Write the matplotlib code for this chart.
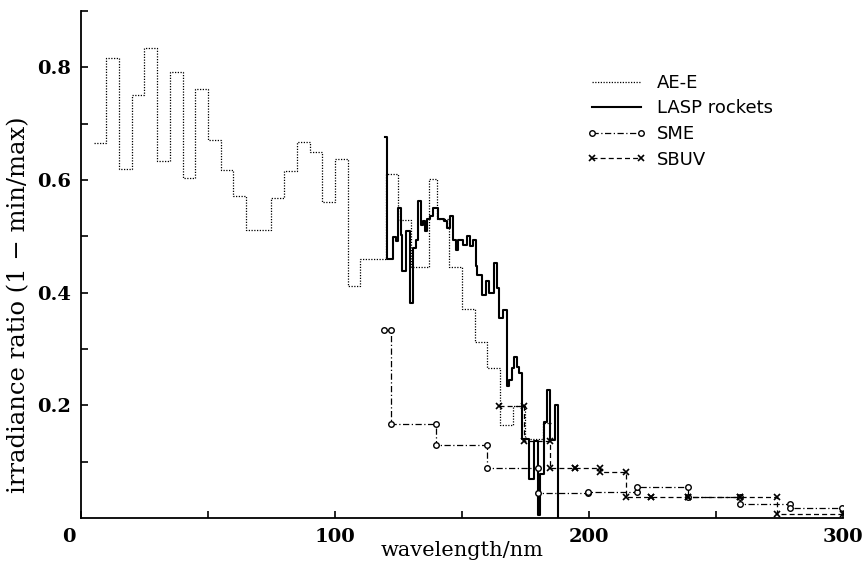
import matplotlib
matplotlib.use("Agg")
import matplotlib.pyplot as plt
import matplotlib.transforms as mtransforms

# AE-E: bin edges (nm) and ratio per bin
aee_edges = [5, 10, 15, 20, 25, 30, 35, 40, 45, 50, 55, 60, 65, 75, 80, 85, 90,
             95, 100, 105, 110, 120, 125, 130, 137, 140, 145, 150, 155, 160,
             165, 170, 175, 182, 185]
aee_vals = [0.666, 0.817, 0.619, 0.751, 0.834, 0.634, 0.792, 0.604, 0.761,
            0.671, 0.618, 0.572, 0.511, 0.568, 0.616, 0.667, 0.650, 0.561,
            0.638, 0.411, 0.460, 0.610, 0.529, 0.445, 0.602, 0.530, 0.445,
            0.371, 0.312, 0.266, 0.165, 0.199, 0.140, 0.169]

# LASP rockets: step start (nm) and value from there on
lasp_x = [119.7, 120.4, 122.7, 124.0, 124.9, 125.9, 126.5, 127.8, 129.5, 130.8,
          131.8, 132.8, 133.7, 134.8, 135.4, 136.3, 137.4, 138.7, 140.7, 142.9,
          144.2, 145.3, 146.3, 147.6, 148.5, 150.3, 151.8, 153.1, 154.2, 155.5,
          156.1, 157.8, 159.4, 160.7, 162.6, 163.7, 164.7, 166.0, 167.6, 168.6,
          169.6, 170.5, 171.5, 172.6, 173.5, 176.4, 178.5, 179.8, 180.9, 182.4,
          183.3, 184.6, 186.6, 187.7]
lasp_y = [0.676, 0.459, 0.499, 0.491, 0.550, 0.503, 0.438, 0.509, 0.381, 0.479,
          0.494, 0.562, 0.521, 0.527, 0.509, 0.530, 0.536, 0.551, 0.530, 0.527,
          0.515, 0.536, 0.494, 0.476, 0.494, 0.485, 0.500, 0.482, 0.494, 0.447,
          0.432, 0.396, 0.421, 0.400, 0.452, 0.408, 0.355, 0.370, 0.234, 0.245,
          0.266, 0.286, 0.268, 0.258, 0.140, 0.070, 0.136, 0.005, 0.079, 0.171,
          0.228, 0.139, 0.200, 0.0]

# SME: horizontal segments (start, end, value)
sme_start = [119.4, 122.0, 139.8, 159.7, 180.0, 199.5, 219.0, 239.0, 259.4, 279.0]
sme_end = [122.0, 139.8, 159.7, 180.0, 199.5, 219.0, 239.0, 259.4, 279.0, 299.5]
sme_val = [0.333, 0.167, 0.129, 0.089, 0.044, 0.047, 0.055, 0.037, 0.024, 0.018]

# SBUV: horizontal segments (start, end, value)
sbuv_start = [164.6, 174.3, 184.6, 194.5, 204.3, 214.5, 224.3, 239.0, 259.4, 274.1]
sbuv_end = [174.3, 184.6, 194.5, 204.3, 214.5, 224.3, 239.0, 259.4, 274.1, 299.9]
sbuv_val = [0.199, 0.136, 0.088, 0.088, 0.082, 0.037, 0.037, 0.037, 0.037, 0.008]


def seg_points(starts, ends, vals):
    xs, ys = [], []
    for a, b, v in zip(starts, ends, vals):
        xs += [a, b]
        ys += [v, v]
    return xs, ys


fig = plt.figure(figsize=(8.66, 5.70), dpi=100)
ax = fig.add_axes([0.0935, 0.0912, 0.8799, 0.8895])

ax.plot(aee_edges, aee_vals + [aee_vals[-1]], drawstyle='steps-post',
        color='black', lw=0.9, ls=(0, (1, 1.2)), label='AE-E')
ax.plot(lasp_x, lasp_y, drawstyle='steps-post', color='black', lw=1.5,
        label='LASP rockets')

sx, sy = seg_points(sme_start, sme_end, sme_val)
ax.plot(sx, sy, color='black', lw=0.9, ls=(0, (5, 2, 1, 2)), marker='o',
        ms=4, mfc='white', mew=1.0, label='SME')
bx, by = seg_points(sbuv_start, sbuv_end, sbuv_val)
ax.plot(bx, by, color='black', lw=0.9, ls=(0, (4, 2.5)), marker='x',
        ms=5, mew=1.2, label='SBUV')

ax.set_xlim(0, 300)
ax.set_ylim(0, 0.9)
for s in ['top', 'right']:
    ax.spines[s].set_visible(False)
for s in ['left', 'bottom']:
    ax.spines[s].set_linewidth(1.3)

ax.set_xticks([0, 100, 200, 300])
ax.set_xticks([50, 150, 250], minor=True)
ax.set_yticks([0.2, 0.4, 0.6, 0.8])
ax.set_yticks([0.1, 0.3, 0.5, 0.7, 0.9], minor=True)
ax.set_yticklabels(['0.2', '0.4', '0.6', '0.8'])
ax.tick_params(which='both', direction='in', length=5, width=1.2, pad=7)
for lab in ax.get_xticklabels() + ax.get_yticklabels():
    lab.set_fontfamily('DejaVu Serif')
    lab.set_fontweight('bold')
    lab.set_fontsize(14)

# the "0" label sits left of the origin
zero = ax.get_xticklabels()[0]
zero.set_transform(zero.get_transform() +
                   mtransforms.ScaledTranslation(-12 / 100, 0, fig.dpi_scale_trans))

ax.set_xlabel('wavelength/nm', fontfamily='DejaVu Serif', fontsize=15)
ax.xaxis.set_label_coords(0.5, -0.045)
ax.set_ylabel('irradiance ratio (1 − min/max)', fontfamily='DejaVu Serif',
              fontsize=17.5)
ax.yaxis.set_label_coords(-0.066, 0.42)

ax.legend(loc='upper left', bbox_to_anchor=(0.664, 0.876), frameon=False,
          borderpad=0, borderaxespad=0, handlelength=3.3, handletextpad=0.6,
          labelspacing=0.42, numpoints=2, prop={'family': 'DejaVu Sans', 'size': 13})

fig.savefig('out.png', dpi=100)
